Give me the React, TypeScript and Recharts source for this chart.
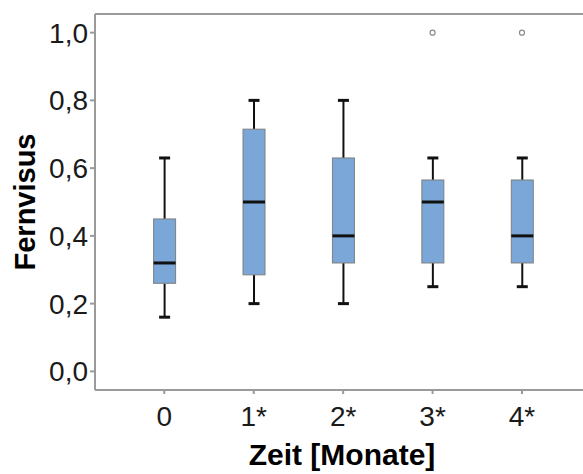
import {
  Bar,
  ComposedChart,
  ReferenceLine,
  Scatter,
  XAxis,
  YAxis,
} from 'recharts';

// Visus per visit: box-plot five-number summaries
const months = ['0', '1*', '2*', '3*', '4*'];
const mins = [0.16, 0.2, 0.2, 0.25, 0.25];
const q1s = [0.26, 0.285, 0.32, 0.32, 0.32];
const medians = [0.32, 0.5, 0.4, 0.5, 0.4];
const q3s = [0.45, 0.715, 0.63, 0.565, 0.565];
const maxs = [0.63, 0.8, 0.8, 0.63, 0.63];
const outlierMonths = ['3*', '4*'];
const outlierValues = [1.0, 1.0];
const yTicks = [0, 0.2, 0.4, 0.6, 0.8, 1.0];

const Y_MIN = -0.055;
const Y_MAX = 1.055;

const rows = months.map((m, i) => ({
  month: m,
  min: mins[i],
  q1: q1s[i],
  median: medians[i],
  q3: q3s[i],
  max: maxs[i],
}));

const outliers = outlierMonths.map((m, i) => ({ month: m, value: outlierValues[i] }));

const AXIS_GRAY = '#9a9a9a';
const BOX_FILL = '#7aa7d7';

function BoxShape(props: any) {
  const { x, y, width, height, payload } = props;
  const { min, q1, median, q3, max } = payload;
  // the bar spans min..max, so map the other stats linearly inside it
  const pos = (v: number) => y + (height * (max - v)) / (max - min);
  const cx = x + width / 2;
  const cap = 11;
  return (
    <g>
      <line x1={cx} x2={cx} y1={pos(max)} y2={pos(q3)} stroke='#111' strokeWidth={2} />
      <line x1={cx} x2={cx} y1={pos(q1)} y2={pos(min)} stroke='#111' strokeWidth={2} />
      <line x1={cx - cap / 2} x2={cx + cap / 2} y1={pos(max)} y2={pos(max)} stroke='#111' strokeWidth={3} />
      <line x1={cx - cap / 2} x2={cx + cap / 2} y1={pos(min)} y2={pos(min)} stroke='#111' strokeWidth={3} />
      <rect
        x={x}
        y={pos(q3)}
        width={width}
        height={pos(q1) - pos(q3)}
        fill={BOX_FILL}
        stroke='#7f7f7f'
        strokeWidth={1}
      />
      <line x1={x} x2={x + width} y1={pos(median)} y2={pos(median)} stroke='#111' strokeWidth={3} />
    </g>
  );
}

function OutlierDot(props: any) {
  const { cx, cy } = props;
  return <circle cx={cx} cy={cy} r={2.5} fill='#fff' stroke='#8a8a8a' strokeWidth={1.2} />;
}

export default function App() {
  return (
    <div style={{ width: 583, height: 474, background: '#fff' }}>
      <style>{'body{margin:0}'}</style>
      <ComposedChart
        width={583}
        height={474}
        data={rows}
        margin={{ top: 14, right: 0, left: 0, bottom: 0 }}
        style={{ fontFamily: 'Liberation Sans, Arial, sans-serif' }}
      >
        <XAxis
          dataKey='month'
          type='category'
          allowDuplicatedCategory={false}
          height={84}
          padding={{ left: 24.6, right: 16.3 }}
          stroke={AXIS_GRAY}
          strokeWidth={2}
          tickSize={4}
          tickMargin={12}
          tick={{ fontSize: 28, fill: '#1a1a1a' }}
          label={{
            value: 'Zeit [Monate]',
            position: 'insideBottom',
            offset: 9,
            dx: 3,
            style: { fontSize: 30, fontWeight: 700, fill: '#000' },
          }}
        />
        <YAxis
          type='number'
          domain={[Y_MIN, Y_MAX]}
          ticks={yTicks}
          width={95}
          stroke={AXIS_GRAY}
          strokeWidth={2}
          tickSize={5}
          tickMargin={2}
          tick={{ fontSize: 28, fill: '#1a1a1a' }}
          tickFormatter={(v: number) => v.toFixed(1).replace('.', ',')}
          label={{
            value: 'Fernvisus',
            angle: -90,
            position: 'insideLeft',
            offset: 25,
            style: { textAnchor: 'middle', fontSize: 29, fontWeight: 700, fill: '#000' },
          }}
        />
        <ReferenceLine y={Y_MAX} stroke={AXIS_GRAY} strokeWidth={2} />
        <Bar
          dataKey={(d: any) => [d.min, d.max]}
          barSize={22}
          shape={BoxShape}
          isAnimationActive={false}
        />
        <Scatter
          data={outliers}
          dataKey='value'
          shape={OutlierDot}
          isAnimationActive={false}
        />
      </ComposedChart>
    </div>
  );
}
